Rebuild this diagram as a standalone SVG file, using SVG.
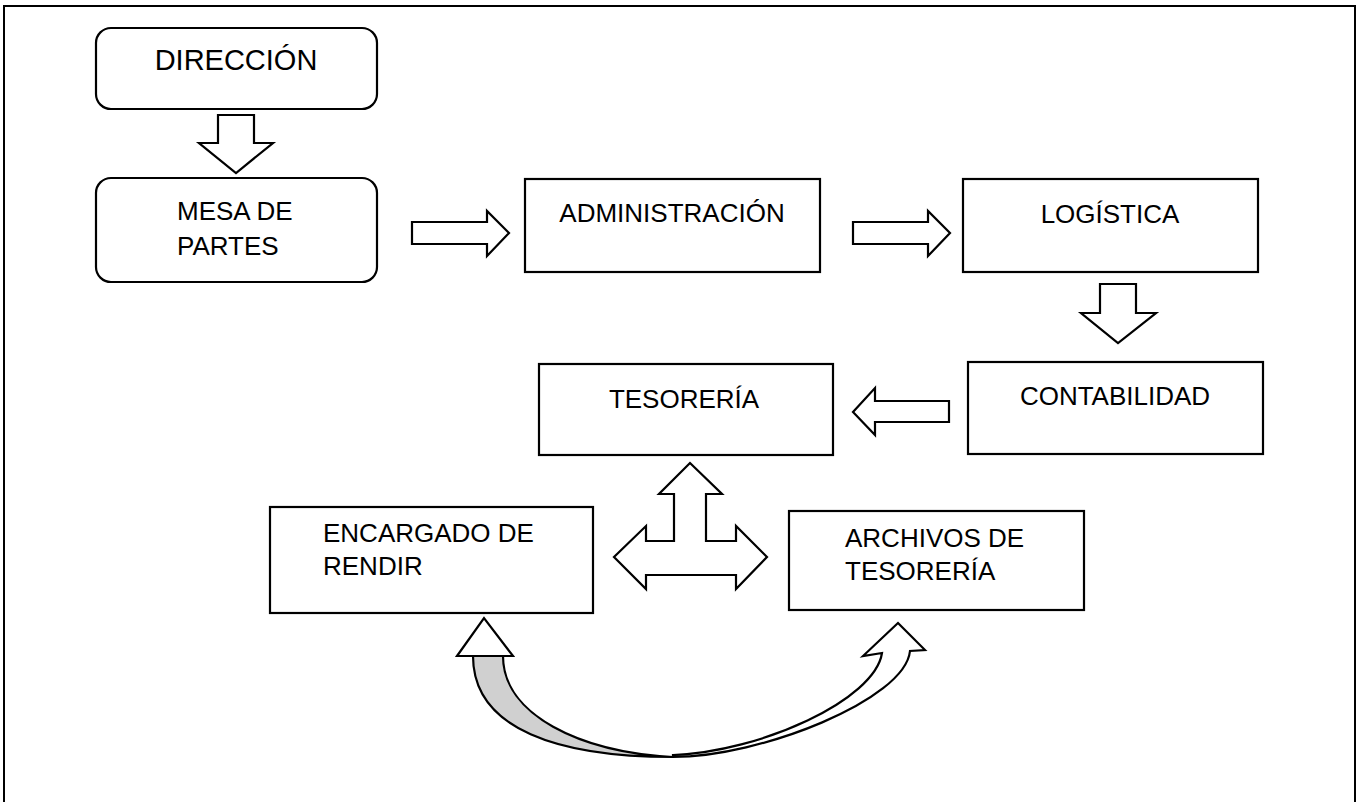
<svg xmlns="http://www.w3.org/2000/svg" width="1360" height="802" viewBox="0 0 1360 802">
<style>
.box{fill:#fff;stroke:#000;stroke-width:2.2}
.arr{fill:#fff;stroke:#000;stroke-width:2.2;stroke-linejoin:miter}
.gray{fill:#d0d0d0;stroke:#000;stroke-width:2.2}
.t{font-family:"Liberation Sans",Arial,sans-serif;font-size:26px;fill:#000}
.m{text-anchor:middle}
</style>
<rect width="1360" height="802" fill="#fff"/>
<path d="M4,802 V6 H1355 V802" fill="none" stroke="#000" stroke-width="2"/>
<g id="connectors">
  <polygon class="arr" points="218,115 254,115 254,143 273,143 236,173 199,143 218,143"/>
  <polygon class="arr" points="412,222 487,222 487,211 509,233 487,256 487,244 412,244"/>
  <polygon class="arr" points="853,222 928,222 928,211 950,233 928,256 928,244 853,244"/>
  <polygon class="arr" points="1100,284 1136,284 1136,313 1156,313 1118,343 1081,313 1100,313"/>
  <polygon class="arr" points="949,401 875,401 875,388 853,412 875,435 875,422 949,422"/>
  <polygon class="arr" points="690,463 722,494 706,494 706,541 736,541 736,526 767,557 736,589 736,575 646,575 646,589 614,557 646,526 646,541 674,541 674,494 659,494"/>
  <path class="gray" d="M473,656 C473,730 560,757 673,757 C580,752 503,715 503,656 Z"/>
  <path class="arr" d="M673,757 C760,757 905,700 910,651 L925,650 L898,623 L863,656 L882,653 C875,700 760,752 673,755 Z"/>
  <polygon class="arr" points="457,656 484,618 513,656"/>
</g>
<g id="direccion">
  <rect class="box" x="96" y="28" width="281" height="81" rx="15"/>
  <text class="t m" x="236" y="70" style="font-size:29px">DIRECCIÓN</text>
</g>
<g id="mesa">
  <rect class="box" x="96" y="178" width="281" height="104" rx="15"/>
  <text class="t" x="177" y="220">MESA DE</text>
  <text class="t" x="177" y="255">PARTES</text>
</g>
<g id="administracion">
  <rect class="box" x="525" y="179" width="295" height="93"/>
  <text class="t m" x="672" y="222">ADMINISTRACIÓN</text>
</g>
<g id="logistica">
  <rect class="box" x="963" y="179" width="295" height="93"/>
  <text class="t m" x="1110" y="223">LOGÍSTICA</text>
</g>
<g id="contabilidad">
  <rect class="box" x="968" y="362" width="295" height="92"/>
  <text class="t m" x="1115" y="405">CONTABILIDAD</text>
</g>
<g id="tesoreria">
  <rect class="box" x="539" y="364" width="294" height="91"/>
  <text class="t m" x="684" y="408">TESORERÍA</text>
</g>
<g id="encargado">
  <rect class="box" x="270" y="507" width="323" height="106"/>
  <text class="t" x="323" y="542">ENCARGADO DE</text>
  <text class="t" x="323" y="575">RENDIR</text>
</g>
<g id="archivos">
  <rect class="box" x="789" y="511" width="295" height="99"/>
  <text class="t" x="845" y="547">ARCHIVOS DE</text>
  <text class="t" x="845" y="580">TESORERÍA</text>
</g>
</svg>
